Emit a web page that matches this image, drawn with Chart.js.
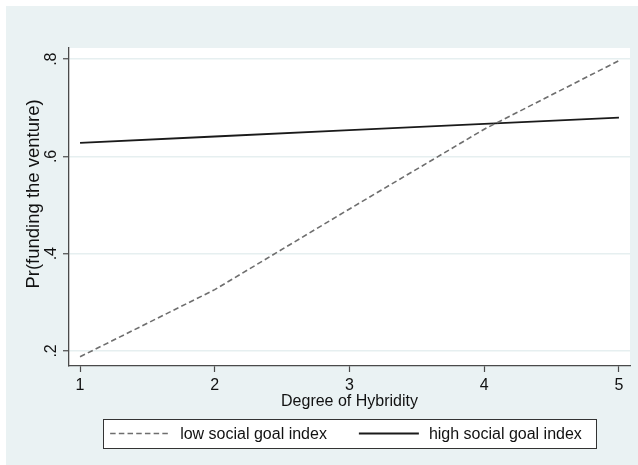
<!DOCTYPE html>
<html>
<head>
<meta charset="utf-8">
<script src="https://cdn.jsdelivr.net/npm/chart.js@4.4.0/dist/chart.umd.min.js"></script>
<style>
  html, body { margin: 0; padding: 0; background: #fff; }
  #wrap { position: absolute; left: 6px; top: 6px; width: 632px; height: 459px; }
</style>
</head>
<body>
<div id="wrap"><canvas id="hybChart" width="632" height="459"></canvas></div>
<script>
  // values
  const degree = [1, 2, 3, 4, 5];
  const lowSocial = [0.188, 0.326, 0.492, 0.656, 0.797];
  const highSocial = [0.628, 0.641, 0.654, 0.667, 0.680];
  const xTicks = [1, 2, 3, 4, 5];
  const yTicks = [0.2, 0.4, 0.6, 0.8];
  const yTickLabels = [".2", ".4", ".6", ".8"];
  const yTitle = "Pr(funding the venture)";

  const FONT = '"Liberation Sans", Arial, Helvetica, sans-serif';
  const axisColor = "#4a4a4a";

  // graph region + white plot region
  const background = {
    id: "background",
    beforeDraw(chart) {
      const { ctx, chartArea: a } = chart;
      ctx.save();
      ctx.fillStyle = "#eaf2f3";
      ctx.fillRect(0, 0, chart.width, chart.height);
      ctx.fillStyle = "#ffffff";
      ctx.fillRect(a.left, a.top, a.right - a.left, a.bottom - a.top);
      ctx.restore();
    },
  };

  // y title sits a bit above the plot's middle, like in stata
  const yTitleText = {
    id: "yTitleText",
    afterDraw(chart) {
      const { ctx, chartArea: a } = chart;
      ctx.save();
      ctx.translate(27.5, (a.top + a.bottom) / 2 - 13);
      ctx.rotate(-Math.PI / 2);
      ctx.font = "18.5px " + FONT;
      ctx.fillStyle = "#111";
      ctx.textAlign = "center";
      ctx.textBaseline = "middle";
      ctx.fillText(yTitle, 0, 0);
      ctx.restore();
    },
  };

  // boxed legend under the axis title
  const legendBox = {
    id: "legendBox",
    afterDraw(chart) {
      const { ctx, chartArea: a } = chart;
      ctx.save();
      ctx.font = "16px " + FONT;
      const items = chart.data.datasets.map((ds) => ({ ds, w: ctx.measureText(ds.label).width }));
      const sample = 60, gap = 10, itemGap = 32, padL = 7, padR = 14;
      let content = itemGap * (items.length - 1);
      items.forEach((it) => (content += sample + gap + it.w));
      const boxW = content + padL + padR, boxH = 29;
      const x0 = (a.left + a.right) / 2 - boxW / 2;
      const y0 = a.bottom + 53;
      ctx.fillStyle = "#ffffff";
      ctx.fillRect(x0, y0, boxW, boxH);
      ctx.strokeStyle = "#333";
      ctx.lineWidth = 1;
      ctx.strokeRect(Math.round(x0) + 0.5, Math.round(y0) + 0.5, Math.round(boxW), boxH);
      const cy = y0 + boxH / 2;
      let x = x0 + padL;
      items.forEach((it) => {
        ctx.beginPath();
        ctx.setLineDash(it.ds.borderDash || []);
        ctx.strokeStyle = it.ds.borderColor;
        ctx.lineWidth = it.ds.borderWidth;
        ctx.moveTo(x, cy);
        ctx.lineTo(x + sample, cy);
        ctx.stroke();
        ctx.setLineDash([]);
        ctx.fillStyle = "#111";
        ctx.textBaseline = "middle";
        ctx.fillText(it.ds.label, x + sample + gap, cy + 1);
        x += sample + gap + it.w + itemGap;
      });
      ctx.restore();
    },
  };

  const config = {
    type: "line",
    data: {
      labels: degree,
      datasets: [
        {
          label: "low social goal index",
          data: degree.map((d, i) => ({ x: d, y: lowSocial[i] })),
          borderColor: "#6e6e6e",
          borderWidth: 1.6,
          borderDash: [5.5, 3.2],
          pointRadius: 0,
          tension: 0,
        },
        {
          label: "high social goal index",
          data: degree.map((d, i) => ({ x: d, y: highSocial[i] })),
          borderColor: "#1a1a1a",
          borderWidth: 1.8,
          pointRadius: 0,
          tension: 0,
        },
      ],
    },
    options: {
      responsive: false,
      animation: false,
      devicePixelRatio: 1,
      layout: { padding: { top: 42, right: 8, bottom: 52, left: 0 } },
      plugins: {
        legend: { display: false },
        tooltip: { enabled: false },
      },
      scales: {
        x: {
          type: "linear",
          min: 0.918,
          max: 5.082,
          afterBuildTicks: (s) => { s.ticks = xTicks.map((v) => ({ value: v })); },
          afterFit: (s) => { s.height = 47; },
          grid: { drawOnChartArea: false, tickLength: 6, tickColor: axisColor, tickWidth: 1.2 },
          border: { color: axisColor, width: 1.3 },
          ticks: { color: "#111", font: { family: FONT, size: 16 }, padding: 4, maxRotation: 0 },
          title: {
            display: true,
            text: "Degree of Hybridity",
            color: "#111",
            font: { family: FONT, size: 16 },
            padding: { top: 0, bottom: 2 },
          },
        },
        y: {
          type: "linear",
          min: 0.169,
          max: 0.823,
          afterBuildTicks: (s) => { s.ticks = yTicks.map((v) => ({ value: v })); },
          afterFit: (s) => { s.width = 63; },
          grid: { color: "#e6eff0", lineWidth: 1.5, tickLength: 6, tickColor: axisColor, tickWidth: 1.2 },
          border: { color: axisColor, width: 1.3 },
          ticks: {
            color: "#111",
            font: { family: FONT, size: 16 },
            minRotation: 90,
            maxRotation: 90,
            crossAlign: "center",
            padding: 5,
            callback: (v) => yTickLabels[yTicks.indexOf(v)],
          },
        },
      },
    },
    plugins: [background, yTitleText, legendBox],
  };

  const hybChart = new Chart(document.getElementById("hybChart"), config);
</script>
</body>
</html>
